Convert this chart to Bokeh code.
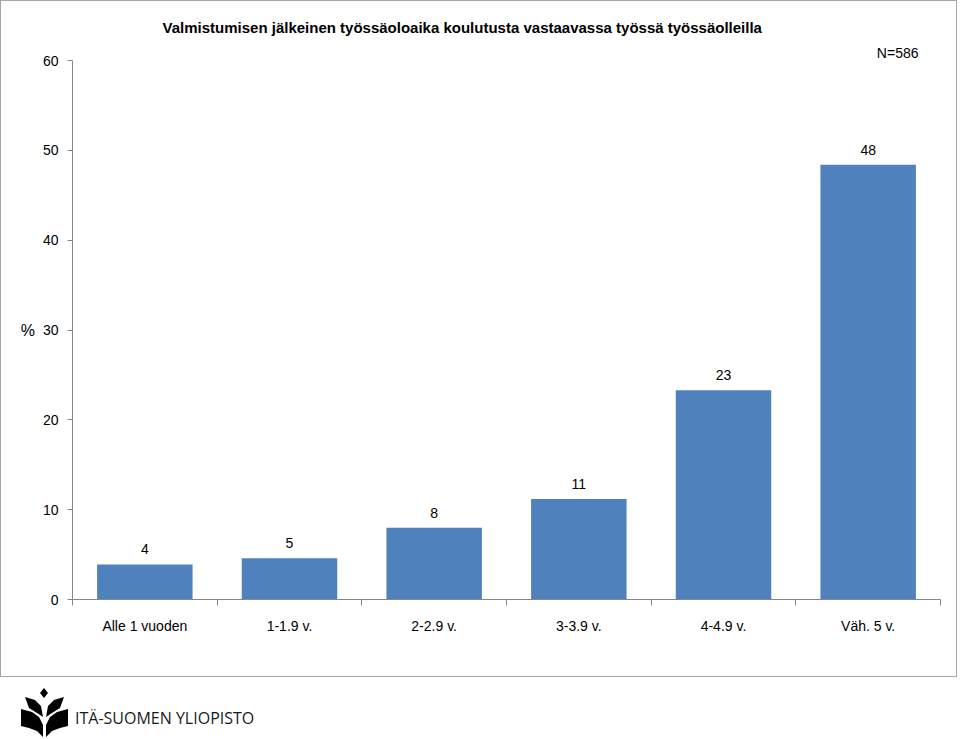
from bokeh.plotting import figure
from bokeh.models import ColumnDataSource, FixedTicker, Range1d, Title, Div
from bokeh.layouts import column
from bokeh.embed import file_html
from bokeh.resources import INLINE
from bokeh.core.properties import value

# ---- data ----
categories = ["Alle 1 vuoden", "1-1.9 v.", "2-2.9 v.", "3-3.9 v.", "4-4.9 v.", "Väh. 5 v."]
values = [3.9, 4.6, 8.0, 11.2, 23.3, 48.4]
value_labels = ["4", "5", "8", "11", "23", "48"]
y_ticks = [0, 10, 20, 30, 40, 50, 60]
title_text = "Valmistumisen jälkeinen työssäoloaika koulutusta vastaavassa työssä työssäolleilla"
n_text = "N=586"
logo_text = "ITÄ-SUOMEN YLIOPISTO"

FONT = "Liberation Sans"
BAR_COLOR = "#4F81BD"
AXIS_COLOR = "#868686"

x_pos = [i + 0.5 for i in range(len(categories))]
src = ColumnDataSource(dict(x=x_pos, top=values, label=value_labels))

p = figure(width=957, height=677,
           x_range=Range1d(0, len(categories)), y_range=Range1d(0, 60),
           output_backend="svg", toolbar_location=None,
           min_border_left=71, min_border_right=18, min_border_top=59, min_border_bottom=79,
           styles={"border": "1px solid #a6a6a6"})
p.title.visible = False

p.vbar(x="x", top="top", bottom=0, width=0.66, source=src,
       fill_color=BAR_COLOR, line_color=None)
p.text(x="x", y="top", text="label", source=src, text_align="center",
       text_baseline="bottom", y_offset=-10, text_font=value(FONT),
       text_font_size="14px", text_color="black")

# x axis: labels at centres, ticks at category boundaries
p.xaxis.ticker = FixedTicker(ticks=x_pos, minor_ticks=list(range(len(categories) + 1)))
p.xaxis.major_label_overrides = {x: c for x, c in zip(x_pos, categories)}
p.xaxis.major_tick_out = 0
p.xaxis.major_tick_in = 0
p.xaxis.minor_tick_out = 6
p.xaxis.minor_tick_in = 0
p.xaxis.minor_tick_line_color = AXIS_COLOR
p.xaxis.axis_line_color = AXIS_COLOR
p.xaxis.major_label_standoff = 12
p.xaxis.major_label_text_font = FONT
p.xaxis.major_label_text_font_size = "14px"
p.xaxis.major_label_text_color = "black"

p.yaxis.ticker = FixedTicker(ticks=y_ticks)
p.yaxis.major_tick_out = 5
p.yaxis.major_tick_in = 0
p.yaxis.minor_tick_out = 0
p.yaxis.minor_tick_in = 0
p.yaxis.major_tick_line_color = AXIS_COLOR
p.yaxis.axis_line_color = AXIS_COLOR
p.yaxis.major_label_standoff = 9
p.yaxis.major_label_text_font = FONT
p.yaxis.major_label_text_font_size = "14px"
p.yaxis.major_label_text_color = "black"
p.yaxis.axis_label = "%"
p.yaxis.axis_label_orientation = "horizontal"
p.yaxis.axis_label_text_font_style = "normal"
p.yaxis.axis_label_text_font = FONT
p.yaxis.axis_label_text_font_size = "16px"
p.yaxis.axis_label_text_color = "black"
p.yaxis.axis_label_standoff = 5

p.xgrid.visible = False
p.ygrid.visible = False
p.outline_line_color = None

t_n = Title(text=n_text, align="right", offset=22, text_font_size="14px",
            text_font_style="normal", text_font=FONT, text_color="black", standoff=0)
p.add_layout(t_n, "above")
t_main = Title(text=title_text, align="left", offset=90, text_font_size="15px",
               text_font_style="bold", text_font=FONT, text_color="black", standoff=13)
p.add_layout(t_main, "above")

# ---- logo strip (decoration, drawn as inline SVG) ----
LOGO_TOP = 679
logo_xs = [
    [44, 48, 44, 40],
    [25, 35, 41, 43, 37, 29],
    [64, 54, 48, 46, 52, 60],
    [21, 32, 39, 43, 43, 37, 29, 21],
    [68, 57, 50, 46, 46, 52, 60, 68],
]
logo_ys = [
    [690, 695, 700, 695],
    [699, 702, 708, 719, 715, 710],
    [699, 702, 708, 719, 715, 710],
    [711, 714, 719, 727, 739, 733, 730, 728],
    [711, 714, 719, 727, 739, 733, 730, 728],
]
polys = "".join(
    '<polygon points="%s" fill="#000"/>' % " ".join("%g,%g" % (x, y - LOGO_TOP) for x, y in zip(xs, ys))
    for xs, ys in zip(logo_xs, logo_ys)
)
svg = ('<svg width="960" height="60" xmlns="http://www.w3.org/2000/svg" style="display:block">%s'
       '<text x="75" y="%d" style="font-family: \'Open Sans\', sans-serif; font-size: 16px;" fill="#1a1a1a" '
       'dominant-baseline="middle">%s</text></svg>') % (polys, 722 - LOGO_TOP, logo_text)
logo = Div(text=svg, width=960, height=60, styles={"margin": "0", "padding": "0"})

layout = column(p, logo, spacing=0)
open("out.html", "w").write(file_html(layout, INLINE))
